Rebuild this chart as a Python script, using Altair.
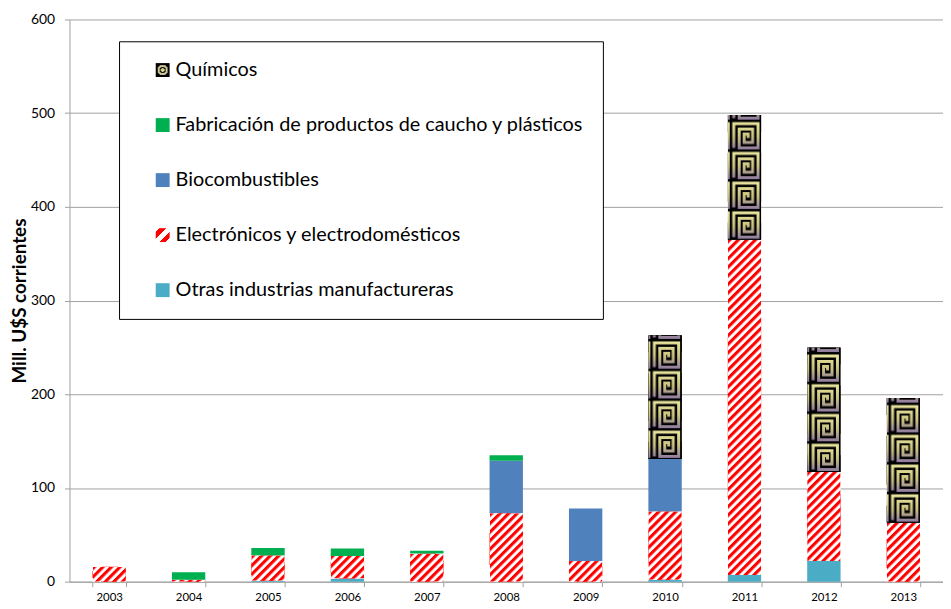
import base64
import altair as alt
import pandas as pd

# ---------------- data ----------------
years = ["2003", "2004", "2005", "2006", "2007", "2008", "2009", "2010", "2011", "2012", "2013"]

S_QUIM = "Químicos"
S_FAB = "Fabricación de productos de caucho y plásticos"
S_BIO = "Biocombustibles"
S_ELEC = "Electrónicos y electrodomésticos"
S_OTRAS = "Otras industrias manufactureras"

quimicos = [0, 0, 0, 0, 0, 0, 0, 132, 133, 133, 133]
fabricacion = [0, 8, 8, 8, 3, 6, 0, 0, 0, 0, 0]
biocombustibles = [0, 0, 0, 0, 0, 56, 56, 56, 0, 0, 0]
electronicos = [16, 2, 27, 24, 30, 73, 22, 73, 358, 95, 63]
otras = [0, 0, 1, 3.5, 0, 0, 0, 2, 7, 22, 0]

# legend order (top to bottom) and stack order (bottom to top)
legend_order = [S_QUIM, S_FAB, S_BIO, S_ELEC, S_OTRAS]
stack_order = [S_OTRAS, S_ELEC, S_BIO, S_FAB, S_QUIM]
series_values = {
    S_QUIM: quimicos,
    S_FAB: fabricacion,
    S_BIO: biocombustibles,
    S_ELEC: electronicos,
    S_OTRAS: otras,
}

rows = []
for s in stack_order:
    for y, v in zip(years, series_values[s]):
        rows.append({"year": y, "series": s, "value": v, "order": stack_order.index(s)})
df = pd.DataFrame(rows)

# ---------------- pattern textures (styles) ----------------
stripe_svg = (
    "<svg xmlns='http://www.w3.org/2000/svg'>"
    "<defs><pattern id='p' width='6.1' height='6.1' patternUnits='userSpaceOnUse' "
    "patternTransform='rotate(45)'>"
    "<rect width='6.1' height='6.1' fill='#ffffff'/>"
    "<rect width='3.1' height='6.1' fill='#ff0000'/>"
    "</pattern></defs>"
    "<rect width='100%' height='100%' fill='url(#p)'/></svg>"
)
spiral_svg = (
    "<svg xmlns='http://www.w3.org/2000/svg'>"
    "<defs>"
    "<pattern id='p' x='3' y='100%' width='30' height='30' patternUnits='userSpaceOnUse'>"
    "<linearGradient id='g' x1='0' y1='0' x2='0' y2='30' gradientUnits='userSpaceOnUse'>"
    "<stop offset='0' stop-color='#eeeba2'/>"
    "<stop offset='0.55' stop-color='#c9c07f'/>"
    "<stop offset='1' stop-color='#8a74a4'/>"
    "</linearGradient>"
    "<rect width='30' height='30' fill='#000000'/>"
    "<path d='M3 27.5 V3 H27.5 V27.5 H8.5 V8.5 H22 V22 H13.5 V13.5 H17.5 V17.5' "
    "fill='none' stroke='url(#g)' stroke-width='3'/>"
    "</pattern></defs>"
    "<rect width='100%' height='100%' fill='#000000'/>"
    "<rect width='100%' height='100%' fill='url(#p)'/></svg>"
)


def to_uri(svg):
    return "data:image/svg+xml;base64," + base64.b64encode(svg.encode("utf-8")).decode("ascii")


stripe_uri = to_uri(stripe_svg)
spiral_uri = to_uri(spiral_svg)

stripe_grad = (
    "{gradient: 'linear', x1: 0, y1: 0, x2: 1, y2: 1, stops: ["
    "{offset: 0, color: '#ffffff'}, {offset: 0.14, color: '#ffffff'},"
    "{offset: 0.14, color: '#ff0000'}, {offset: 0.38, color: '#ff0000'},"
    "{offset: 0.38, color: '#ffffff'}, {offset: 0.62, color: '#ffffff'},"
    "{offset: 0.62, color: '#ff0000'}, {offset: 0.86, color: '#ff0000'},"
    "{offset: 0.86, color: '#ffffff'}, {offset: 1, color: '#ffffff'}]}"
)
spiral_grad = (
    "{gradient: 'radial', x1: 0.5, y1: 0.5, r1: 0, x2: 0.5, y2: 0.5, r2: 0.62, stops: ["
    "{offset: 0, color: '#d8d28c'}, {offset: 0.2, color: '#d8d28c'},"
    "{offset: 0.2, color: '#111111'}, {offset: 0.38, color: '#111111'},"
    "{offset: 0.38, color: '#dcd690'}, {offset: 0.62, color: '#b8a896'},"
    "{offset: 0.62, color: '#000000'}, {offset: 1, color: '#000000'}]}"
)

color_range = [
    {"expr": spiral_grad},
    "#00b050",
    "#4f81bd",
    {"expr": stripe_grad},
    "#4bacc6",
]

FONT = "Lato"
GRID = "#a0a0a0"

x_enc = alt.X(
    "year:O",
    sort=years,
    scale=alt.Scale(paddingInner=0.58, paddingOuter=0.29),
    axis=alt.Axis(
        title=None,
        labelAngle=0,
        tickBand="extent",
        tickSize=5,
        tickColor=GRID,
        domainColor=GRID,
        labelFont=FONT,
        labelFontSize=11.5,
        labelColor="#000000",
        labelPadding=5,
        grid=False,
    ),
)
y_enc = alt.Y(
    "y1:Q",
    scale=alt.Scale(domain=[0, 600], nice=False),
    axis=alt.Axis(
        title="Mill. U$S corrientes",
        values=[0, 100, 200, 300, 400, 500, 600],
        tickSize=5,
        tickColor=GRID,
        domainColor=GRID,
        gridColor=GRID,
        labelFont=FONT,
        labelFontSize=14,
        labelColor="#000000",
        labelPadding=10,
        titleFont=FONT,
        titleFontSize=19,
        titleFontWeight="bold",
        titleColor="#000000",
        titlePadding=1,
    ),
)

base = alt.Chart(df).transform_filter("datum.value > 0").transform_stack(
    stack="value",
    groupby=["year"],
    as_=["y0", "y1"],
    sort=[alt.SortField("order", order="ascending")],
)

bars = base.mark_bar().encode(
    x=x_enc,
    y=y_enc,
    y2="y0:Q",
    color=alt.Color(
        "series:N",
        scale=alt.Scale(domain=legend_order, range=color_range),
        legend=alt.Legend(
            title=None,
            orient="none",
            legendX=50,
            legendY=22,
            padding=19,
            symbolOffset=15,
            labelOffset=3,
            symbolType="square",
            symbolSize=196,
            symbolStrokeWidth=0,
            labelFont=FONT,
            labelFontSize=20,
            labelColor="#000000",
            labelLimit=0,
            rowPadding=35.5,
            strokeColor="#000000",
            fillColor="#ffffff",
        ),
    ),
)

textures = base.transform_filter(
    f"datum.series === '{S_QUIM}' || datum.series === '{S_ELEC}'"
).transform_calculate(
    url=f"datum.series === '{S_QUIM}' ? '{spiral_uri}' : '{stripe_uri}'"
).mark_image(aspect=False).encode(
    x=alt.X("year:O", sort=years),
    y="y1:Q",
    y2="y0:Q",
    url="url:N",
)

chart = alt.layer(bars, textures).properties(
    width=881,
    height=567,
    padding={"left": 62, "top": 9, "right": 0, "bottom": 25},
    autosize=alt.AutoSizeParams(type="none"),
).configure(font=FONT).configure_view(stroke=None)

chart.save("out.html", embed_options={"renderer": "svg", "actions": False})
